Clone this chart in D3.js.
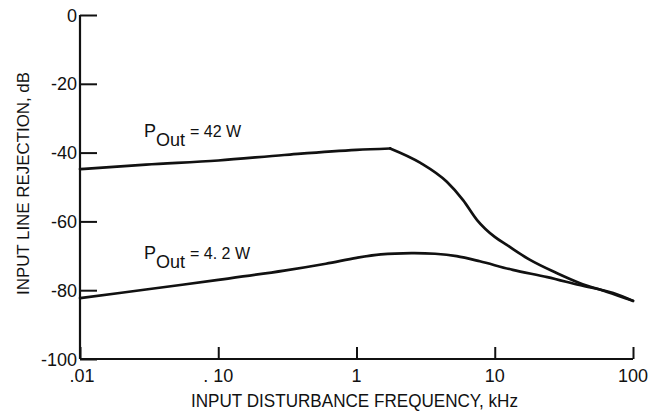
<!DOCTYPE html>
<html>
<head>
<meta charset="utf-8">
<script src="https://cdn.jsdelivr.net/npm/d3@7"></script>
<style>
  body { margin: 0; background: #fff; }
  text { font-family: "Liberation Sans", Arial, sans-serif; fill: #111; }
</style>
</head>
<body>
<svg class="chart"></svg>
<script>
// values: frequency in kHz, rejection in dB
var freq42 = [0.01, 0.03, 0.1, 0.3, 1, 1.75, 2.9, 4.5, 5.9, 7.45, 10, 12.3, 18, 28, 41, 65, 100];
var db42   = [-44.8, -43.5, -42.3, -40.7, -39.2, -38.8, -43, -48.5, -53.8, -59.6, -64.5, -66.9, -71.2, -75, -77.9, -80.5, -83.1];

var freq4 = [0.01, 0.03, 0.1, 0.3, 0.6, 1, 1.5, 2.5, 3.7, 5.3, 7.8, 13.5, 24, 41, 72, 100];
var db4   = [-82.3, -79.8, -77, -74.3, -72.3, -70.6, -69.6, -69.2, -69.4, -70.1, -71.6, -74.1, -76.2, -78.5, -80.8, -83.1];

var xTicks = [0.01, 0.1, 1, 10, 100];
var xTickLabels = [".01", ". 10", "1", "10", "100"];
var yTicks = [0, -20, -40, -60, -80, -100];

function show() {
    'use strict';

    var margin = {top: 15, right: 17, bottom: 57, left: 80},
        width = 650 - margin.left - margin.right,
        height = 416 - margin.top - margin.bottom;

    var svg = d3.select(".chart")
        .attr("width", 650)
        .attr("height", 416);

    var chart = svg.append("g")
        .attr("transform", "translate(" + margin.left + "," + margin.top + ")");

    var x = d3.scaleLog().domain([0.01, 100]).range([0, width]);
    var y = d3.scaleLinear().domain([-100, 0]).range([height, 0]);

    // axes: y ticks point inward (right), x ticks point up
    var yAxis = d3.axisRight(y).tickValues(yTicks).tickSize(17).tickFormat("");
    var xAxis = d3.axisTop(x).tickValues(xTicks).tickSize(12).tickFormat("");

    var gy = chart.append("g").call(yAxis);
    var gx = chart.append("g").attr("transform", "translate(0," + height + ")").call(xAxis);
    [gy, gx].forEach(function(g) {
        g.select(".domain").remove();
        g.selectAll("line").attr("stroke", "#111").attr("stroke-width", 2);
    });

    chart.append("line")
        .attr("x1", 0).attr("x2", 0).attr("y1", 0).attr("y2", height)
        .attr("stroke", "#111").attr("stroke-width", 2.2);
    chart.append("line")
        .attr("x1", 0).attr("x2", width).attr("y1", height).attr("y2", height)
        .attr("stroke", "#111").attr("stroke-width", 2.2);

    // tick labels
    chart.selectAll(".ylab").data(yTicks).enter().append("text")
        .attr("class", "ylab")
        .attr("x", -3)
        .attr("y", function(d) { return y(d) + 6.5; })
        .attr("text-anchor", "end")
        .style("font-size", "18px")
        .text(function(d) { return d === 0 ? "0" : "-" + Math.abs(d); });

    chart.selectAll(".xlab").data(xTicks).enter().append("text")
        .attr("class", "xlab")
        .attr("x", function(d) { return x(d) + (d === 0.01 ? 2 : 0); })
        .attr("y", height + 23)
        .attr("text-anchor", "middle")
        .style("font-size", "18px")
        .text(function(d, i) { return xTickLabels[i]; });

    // axis titles
    chart.append("text")
        .attr("x", (191 - margin.left))
        .attr("y", height + 48)
        .attr("textLength", 327)
        .attr("lengthAdjust", "spacingAndGlyphs")
        .style("font-size", "18px")
        .text("INPUT DISTURBANCE FREQUENCY,  kHz");

    chart.append("text")
        .attr("transform", "translate(" + (-51) + "," + (184 - margin.top) + ") rotate(-90)")
        .attr("x", -111)
        .attr("textLength", 223)
        .attr("lengthAdjust", "spacingAndGlyphs")
        .style("font-size", "17px")
        .text("INPUT LINE REJECTION,  dB");

    // curves
    var line = d3.line()
        .x(function(d) { return x(d[0]); })
        .y(function(d) { return y(d[1]); })
        .curve(d3.curveMonotoneX);

    // the 42 W curve has a sharp knee at its peak, so draw it as two
    // pieces that meet there; the 4.2 W curve is rounded throughout
    var pts42 = d3.zip(freq42, db42),
        knee = d3.maxIndex(db42);
    var pieces = [pts42.slice(0, knee + 1), pts42.slice(knee)];

    chart.selectAll(".curve42").data(pieces).enter().append("path")
        .attr("class", "curve42")
        .attr("d", line);

    chart.append("path")
        .attr("class", "curve4")
        .attr("d", line.curve(d3.curveCatmullRom.alpha(0.5))(d3.zip(freq4, db4)));

    chart.selectAll(".curve42, .curve4")
        .attr("fill", "none")
        .attr("stroke", "#111")
        .attr("stroke-width", 2.7)
        .attr("stroke-linejoin", "round")
        .attr("stroke-linecap", "round");

    // annotations
    var notes = [{f: 0.029, db: -35.5, w: "42 W"}, {f: 0.029, db: -70.9, w: "4. 2 W"}];
    notes.forEach(function(n) {
        var t = chart.append("text")
            .attr("x", x(n.f))
            .attr("y", y(n.db))
            .style("font-size", "18px");
        t.append("tspan").text("P");
        t.append("tspan").attr("dy", 9).text("Out");
        t.append("tspan").attr("dy", -9).attr("dx", 5).style("font-size", "16px").text("= " + n.w);
    });
}
show();
</script>
</body>
</html>
